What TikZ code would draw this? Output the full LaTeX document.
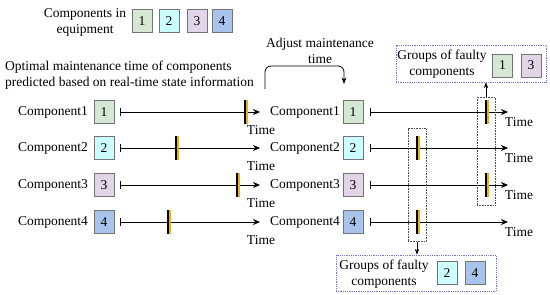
\documentclass[tikz,border=0pt]{standalone}
\usepackage{fontspec}
\setmainfont{Liberation Serif}
\usetikzlibrary{arrows.meta,positioning}
\definecolor{cgreen}{HTML}{D5E8D4}
\definecolor{ccyan}{HTML}{CCFFFF}
\definecolor{cpurple}{HTML}{E1D5E7}
\definecolor{cblue}{HTML}{A9C4EB}
\definecolor{glow}{HTML}{E8B020}
\definecolor{grpline}{HTML}{7575D6}
\tikzset{
  compbox/.style={draw=black!55,minimum width=20pt,minimum height=23pt,inner sep=0pt},
  timeaxis/.style={{Bar[width=8pt]}-{Stealth[length=7pt,width=6pt]},semithick},
  faultbox/.style={draw=black!70,densely dotted,semithick,minimum width=18pt,inner sep=0pt},
  grpbox/.style={draw=grpline,densely dotted,thick,inner sep=0pt},
}
\begin{document}
\begin{tikzpicture}[x=1pt,y=-1pt,>=Stealth,font=\fontsize{13.5}{16}\selectfont]
  \useasboundingbox (0,0) rectangle (550,295);
  % legend
  \node[align=center] (legtxt) at (85,22){Components in\\equipment};
  \node[compbox,fill=cgreen]  (leg1) at (142,21){1};
  \node[compbox,fill=ccyan]   (leg2) at (169,21){2};
  \node[compbox,fill=cpurple] (leg3) at (197,21){3};
  \node[compbox,fill=cblue]   (leg4) at (222,21){4};
  % titles
  \node[align=left,anchor=west,inner sep=0pt] (optimal) at (5,75){Optimal maintenance time of components\\predicted based on real-time state information};
  \node[align=center] (adjust) at (320,51){Adjust maintenance\\time};
  \coordinate (adjfrom) at (265,89);
  \coordinate (adjto) at (344,84);
  \draw[->,thick,rounded corners=6pt] (adjfrom) |- (300,66) -| (adjto);
  % rows: left = predicted, right = adjusted
  \foreach \r/\y/\c/\tl/\tr in {1/112/cgreen/245/486,2/148/ccyan/176/417,3/185/cpurple/237/486,4/222/cblue/168/417}{
    \node[anchor=east,inner sep=0pt] (lname\r) at (88,\y){Component\r};
    \node[compbox,fill=\c] (lbox\r) at (104,\y){\r};
    \coordinate (ls\r) at (120,\y);
    \coordinate (le\r) at (260,\y);
    \draw[timeaxis] (ls\r) -- (le\r);
    \node (ltime\r) at (261,{\y+18}){Time};
    \draw[glow,line width=3.4pt] ({\tl+0.8},{\y-12}) -- ({\tl+0.8},{\y+12});
    \draw[line width=1.5pt] (\tl,{\y-12}) -- (\tl,{\y+12});
    \node[anchor=east,inner sep=0pt] (rname\r) at (340,\y){Component\r};
    \node[compbox,fill=\c] (rbox\r) at (353,\y){\r};
    \coordinate (rs\r) at (370,\y);
    \coordinate (re\r) at (508,\y);
    \draw[timeaxis] (rs\r) -- (re\r);
    \node (rtime\r) at (519,{\y+10}){Time};
    \draw[glow,line width=3.4pt] ({\tr+0.8},{\y-12}) -- ({\tr+0.8},{\y+12});
    \draw[line width=1.5pt] (\tr,{\y-12}) -- (\tr,{\y+12});
  }
  % grouped components
  \node[faultbox,minimum height=108pt] (faultA) at (486,151){};
  \node[faultbox,minimum height=113pt] (faultB) at (417,185){};
  \node[grpbox,minimum width=150pt,minimum height=37pt] (grpA) at (471,63.5){};
  \node[align=center] (grpAtxt) at (442,64){Groups of faulty\\components};
  \node[compbox,fill=cgreen]  (grpA1) at (502.5,65.5){1};
  \node[compbox,fill=cpurple] (grpA3) at (531,65.5){3};
  \node[grpbox,minimum width=160pt,minimum height=36pt] (grpB) at (416,273){};
  \node[align=center] (grpBtxt) at (384,274){Groups of faulty\\components};
  \node[compbox,fill=ccyan] (grpB2) at (447,273){2};
  \node[compbox,fill=cblue] (grpB4) at (475,273){4};
  \draw[->,semithick] (faultA.north) -- (faultA.north|-grpA.south);
  \draw[->,semithick] (faultB.south) -- (faultB.south|-grpB.north);
\end{tikzpicture}
\end{document}
